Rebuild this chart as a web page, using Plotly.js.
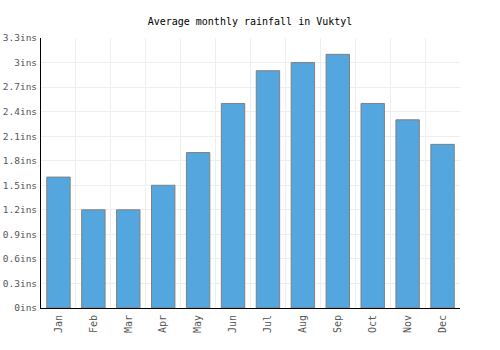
<!DOCTYPE html>
<html><head><meta charset="utf-8">
<script src="https://cdn.plot.ly/plotly-3.0.1.min.js"></script>
<style>html,body{margin:0;padding:0;background:#fff}#chart{width:500px;height:350px}</style>
</head><body><div id="chart"></div>
<script>
const months = ["Jan","Feb","Mar","Apr","May","Jun","Jul","Aug","Sep","Oct","Nov","Dec"];
const rainfall = [1.6,1.2,1.2,1.5,1.9,2.5,2.9,3.0,3.1,2.5,2.3,2.0];
const yTicks = [0,0.3,0.6,0.9,1.2,1.5,1.8,2.1,2.4,2.7,3,3.3];
const yTickText = ["0ins","0.3ins","0.6ins","0.9ins","1.2ins","1.5ins","1.8ins","2.1ins","2.4ins","2.7ins","3ins","3.3ins"];
const font = "DejaVu Sans Mono, monospace";
Plotly.newPlot("chart", [{
  type: "bar", x: months, y: rainfall,
  marker: {color: "#53a7de", line: {color: "#808080", width: 1}},
  hoverinfo: "none"
}], {
  width: 500, height: 350,
  margin: {l: 41, r: 40, t: 38, b: 42},
  paper_bgcolor: "#fff", plot_bgcolor: "#fff",
  bargap: 0.33,
  title: {text: "Average monthly rainfall in Vuktyl", font: {family: font, size: 10, color: "#000"}, x: 0.5, xanchor: "center", y: 0.94, yanchor: "middle"},
  xaxis: {type: "category", tickson: "boundaries", showgrid: true, gridcolor: "#eeeeee", gridwidth: 1,
    showline: true, linecolor: "#000", linewidth: 1, ticks: "", tickangle: -90, ticklabelstandoff: 2,
    tickfont: {family: font, size: 10, color: "#555"}, mirror: false},
  yaxis: {range: [0, 3.3], tickvals: yTicks, ticktext: yTickText, showgrid: true, gridcolor: "#eeeeee",
    showline: true, linecolor: "#000", linewidth: 1, ticks: "", zeroline: false, ticklabelstandoff: 1,
    tickfont: {family: font, size: 9.5, color: "#555"}},
  showlegend: false
}, {displayModeBar: false, staticPlot: true});
</script></body></html>
